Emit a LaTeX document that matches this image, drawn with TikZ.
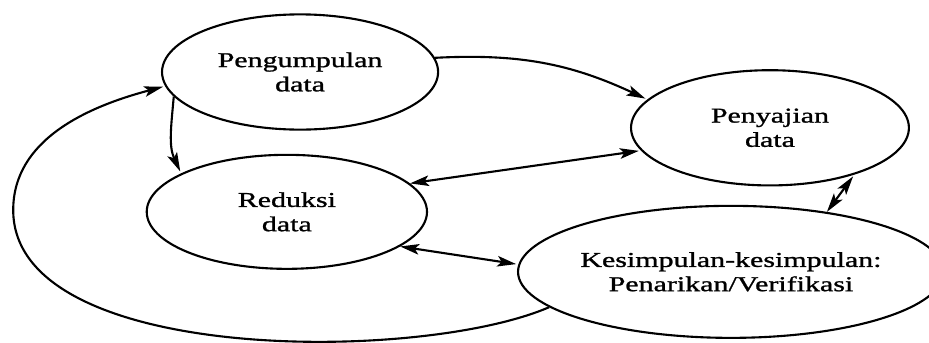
\documentclass[tikz,border=0pt]{standalone}
\usepackage{fontspec}
\setmainfont{Liberation Serif}
\newfontfamily\lblfont[FakeStretch=1.42,FakeBold=1.2]{Liberation Serif}
\usepackage{tikz}
\usetikzlibrary{arrows,arrows.meta,shapes.geometric,positioning}

\begin{document}
\begin{tikzpicture}[->,>={Stealth[length=9pt,width=5pt,inset=2pt]},shorten >=1pt,line width=1pt,
                    every text node part/.style={align=center}]
  \tikzstyle{every node}=[font=\lblfont\fontsize{10}{11.5}\selectfont]
  \tikzstyle{blob}=[ellipse,draw=black,inner sep=0pt,minimum width=4.6cm,minimum height=1.92cm]

  \useasboundingbox (0,0) rectangle (15.48,5.7);

    \node[blob]                                          (kumpul)  at (5.00,4.50)  {Pengumpulan\\ data};
    \node[blob, minimum width=4.67cm, minimum height=1.9cm] (reduksi) at (4.78,2.17)  {Reduksi\\ data};
    \node[blob, minimum width=4.63cm]                    (sajian)  at (12.83,3.57) {Penyajian\\ data};
    \node[blob, minimum width=6.47cm, minimum height=2.2cm] (simpul) at (12.18,1.17) {Kesimpulan-kesimpulan:\\ Penarikan/Verifikasi};

  \path (kumpul.6) edge [out=3,in=155]         (sajian.167)
        (kumpul.191) edge [out=-95,in=115]     (reduksi.160)
        (reduksi.13) edge [<->]                (sajian.190)
        (reduksi.-17) edge [<->]               (simpul.178)
        (simpul.32) edge [<->]                 (sajian.-29);

  % long way back round the left side
  \draw (simpul.191) .. controls (7.00,-0.35) and (0.22,-0.38) .. (0.22,2.20)
                     .. controls (0.22,3.37) and (1.45,3.92) .. (kumpul.186);

\end{tikzpicture}
\end{document}
